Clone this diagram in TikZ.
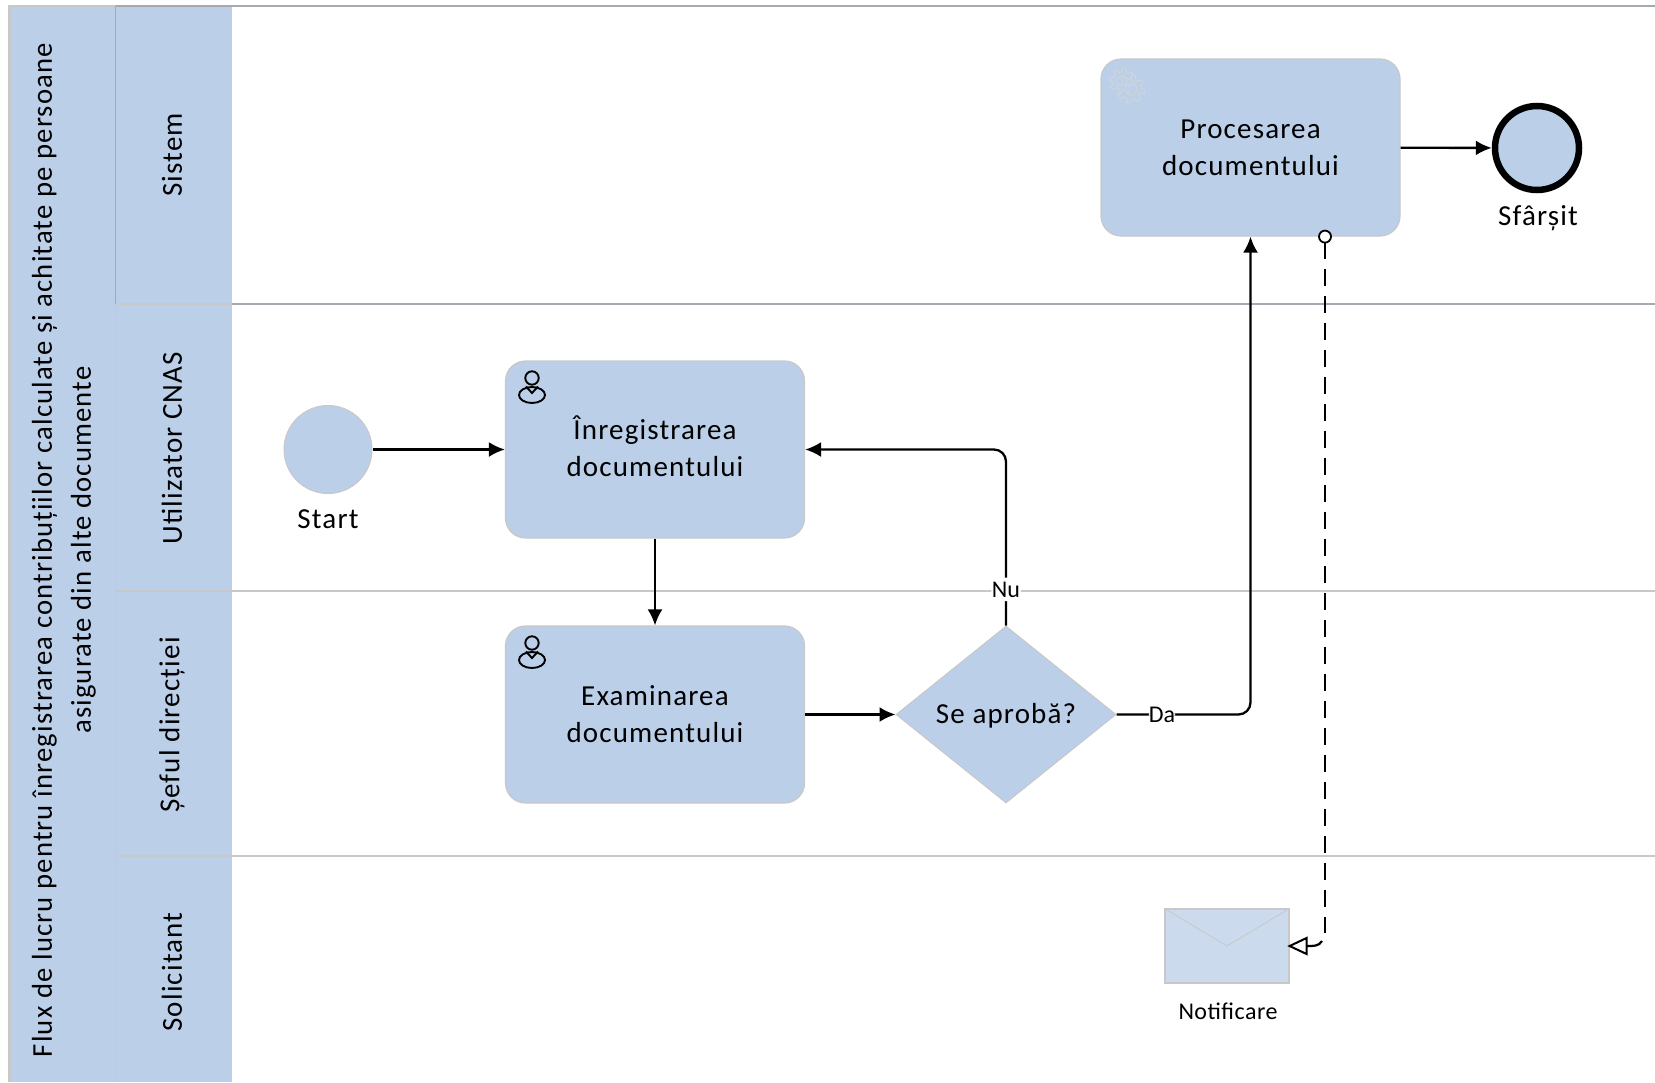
\documentclass[tikz,border=0pt]{standalone}
\usepackage{fontspec}
\setmainfont{Carlito}
\newfontfamily\spaced[LetterSpace=4]{Carlito}
\newfontfamily\slight[LetterSpace=2]{Carlito}
\usetikzlibrary{arrows.meta,shapes.geometric}
\definecolor{bluefill}{HTML}{BBCFE8}
\definecolor{envfill}{HTML}{CBDAED}
\definecolor{edgegray}{HTML}{C8C8C8}
\definecolor{linegray}{HTML}{A6AAB0}
\definecolor{gearline}{HTML}{CDD4DC}
\tikzset{
  lanetext/.style={rotate=90,font=\spaced\fontsize{29}{40}\selectfont,text=black,inner sep=0pt},
  pooltext/.style={rotate=90,font=\spaced\fontsize{28.7}{39}\selectfont,text=black,inner sep=0pt,align=center},
  tasktext/.style={font=\spaced\fontsize{29}{37}\selectfont,align=center},
  taskbox/.style={draw=edgegray,line width=1.2pt,fill=bluefill,rounded corners=20pt,minimum width=299pt,minimum height=177pt,inner sep=0pt,tasktext},
  lanerule/.style={draw=edgegray,line width=1.5pt},
  flow/.style={draw=black,line width=2.3pt,-{Latex[length=16pt,width=15pt]},rounded corners=12pt},
  person/.style={draw=black,line width=1.9pt,fill=none},
  caption/.style={font=\spaced\fontsize{29}{34}\selectfont,inner sep=0pt},
  edgelabel/.style={font=\fontsize{24}{28}\selectfont,fill=white,inner sep=1pt},
  gear/.style={draw=gearline,line width=1.1pt}
}
\begin{document}
\begin{tikzpicture}[x=1pt,y=-1pt]
\useasboundingbox (0,0) rectangle (1655,1082);
\fill[white] (0,0) rectangle (1655,1082);
% pool and lane headers
\fill[edgegray] (8,5) rectangle (116,1082);
\fill[bluefill] (11,7) rectangle (115,1082);
\fill[bluefill] (116,7) rectangle (232,1082);
\draw[draw=linegray,line width=1pt] (115.5,6) -- (115.5,304);
\draw[draw=linegray,line width=2.5pt] (116,6) -- (1655,6);
\draw[draw=linegray,line width=2.2pt] (232,304) -- (1655,304);
\draw[lanerule] (116,304) -- (232,304);
\draw[lanerule] (116,591) -- (1655,591);
\draw[lanerule] (116,856) -- (1655,856);
% titles
\node[pooltext] (pooltitle) at (64,550) {Flux de lucru pentru înregistrarea contribuțiilor calculate și achitate pe persoane\\asigurate din alte documente};
\node[lanetext] (l1) at (172,155) {Sistem};
\node[lanetext] (l2) at (172,448) {Utilizator CNAS};
\node[lanetext] (l3) at (172,725) {Șeful direcției};
\node[lanetext] (l4) at (172,972) {Solicitant};
% tasks
\node[taskbox] (proc) at (1250.5,147.5) {Procesarea\\documentului};
\node[taskbox] (inreg) at (655,449.5) {\raisebox{0pt}[18pt][0pt]{Înregistrarea}\\documentului};
\node[taskbox] (exam) at (655,714.5) {Examinarea\\documentului};
\node[draw=edgegray,line width=1pt,fill=bluefill,diamond,aspect=1.243,minimum width=220pt,minimum height=177pt,inner sep=0pt,tasktext] (gate) at (1006,714.5) {\raisebox{-9pt}[0pt][0pt]{Se aprobă?}};
\node[circle,draw=edgegray,line width=1pt,fill=bluefill,minimum size=88pt,inner sep=0pt] (start) at (328,449.5) {};
\node[circle,draw=black,line width=6.5pt,fill=bluefill,minimum size=84pt,inner sep=0pt] (end) at (1537,148) {};
\node[caption] (startlabel) at (328,519) {Start};
\node[caption] (endlabel) at (1538,218) {Sfârșit};
% envelope
\node[rectangle,draw=edgegray,line width=1.2pt,fill=envfill,minimum width=124pt,minimum height=74pt,inner sep=0pt] (msg) at (1227,946) {};
\draw[draw=edgegray,line width=0.8pt] (msg.north west) -- (msg.center) -- (msg.north east);
\node[font=\slight\fontsize{24}{28}\selectfont,inner sep=0pt] (msglabel) at (1228,1011) {Notificare};
% gear icon
\foreach \cx/\cy/\rg/\ri in {1122/81/11/5,1131/89/12/6}{
  \draw[gear] plot[domain=0:360,samples=97] ({\cx+(\rg+max(-2,min(2,20*sin(8*\x))))*cos(\x)},{\cy+(\rg+max(-2,min(2,20*sin(8*\x))))*sin(\x)}) -- cycle;
  \draw[gear] (\cx,\cy) circle (\ri pt);
}
% person icons
\foreach \py in {361,626}{
  \draw[person] (532,\py+17) circle (6.7pt);
  \draw[person] (532,\py+34) ellipse (13pt and 8pt);
  \draw[person] (526,\py+25.5) -- (532,\py+32) -- (538,\py+25.5);
}
% connectors
\draw[flow] (start) -- (inreg);
\draw[flow] (inreg) -- (exam);
\draw[flow] (exam) -- (gate);
\draw[flow] (gate.north) -- node[edgelabel,pos=0.205,inner ysep=4pt] {Nu} (gate.north |- inreg.east) -- (inreg.east);
\draw[flow] (gate.east) -- node[edgelabel,pos=0.34,inner sep=0pt] {Da} (proc.south |- gate.east) -- (proc.south);
\draw[flow] (proc) -- (end);
\coordinate (dashstart) at ([xshift=74.5pt]proc.south);
\coordinate (dashbend) at (dashstart |- msg.east);
\draw[draw=black,line width=2.2pt,dash pattern=on 17.5pt off 9.5pt]
  ([yshift=-5pt]dashstart) -- ([yshift=13pt]dashbend);
\draw[draw=black,line width=2.2pt] ([xshift=-3pt,yshift=5pt]dashbend) to[out=-120,in=0] ([xshift=17pt]msg.east);
\draw[draw=black,line width=2pt,fill=white] (msg.east) -- ++(17pt,-8pt) -- ++(0,16pt) -- cycle;
\draw[draw=black,line width=1.8pt,fill=white] (dashstart) circle (6pt);
\end{tikzpicture}
\end{document}
